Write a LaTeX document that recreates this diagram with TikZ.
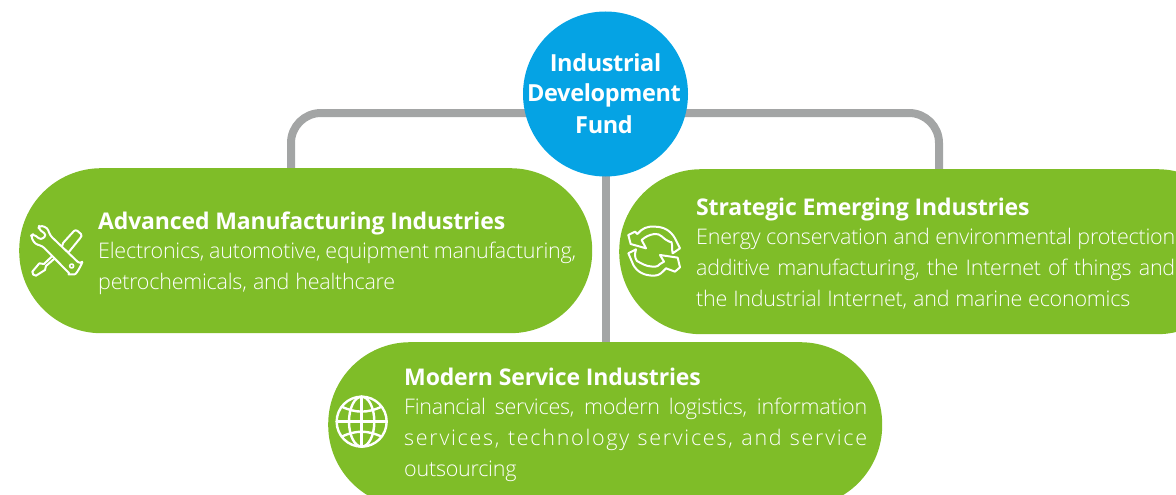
\documentclass[tikz,border=0pt]{standalone}
\usepackage{fontspec}
\setmainfont{Open Sans}
\newfontfamily\lightf{Open Sans Light}
\definecolor{leaf}{HTML}{7FBD28}
\definecolor{sky}{HTML}{05A3E4}
\definecolor{rail}{HTML}{A3A5A5}
\tikzset{
  pill/.style={fill=leaf,rounded corners=82pt,minimum height=165pt,inner sep=0pt,anchor=north west},
  hub/.style={circle,fill=sky,minimum size=165pt,inner sep=0pt},
  link/.style={draw=rail,line width=8pt,rounded corners=30pt},
  head/.style={anchor=base west,inner sep=0pt,white,font=\fontsize{23}{23}\selectfont\bfseries\addfontfeature{LetterSpace=-0.7}},
  body/.style={anchor=base west,inner sep=0pt,white,font=\lightf\fontsize{21.5}{23}\selectfont\addfontfeature{LetterSpace=-1.1}},
  hubtext/.style={anchor=base,inner sep=0pt,white,font=\fontsize{23.5}{24}\selectfont\bfseries\addfontfeature{LetterSpace=-1.5}},
  ico/.style={draw=white,line width=2pt,line join=round,line cap=round},
}
\begin{document}
\begin{tikzpicture}[x=1pt,y=-1pt]
\clip (0,0) rectangle (1176,495);
\path[use as bounding box] (0,0) rectangle (1176,495);
\coordinate (hubc) at (605.5,94);
\coordinate (railmid) at (605.5,113);
\coordinate (tl) at (291,170);
\coordinate (tr) at (939,172);
\coordinate (bm) at (605.5,345);
% connectors
\draw[link] (tl) |- (railmid) -| (tr);
\draw[draw=rail,line width=8pt] (hubc) -- (bm);
% shapes
\node[pill,minimum width=573pt] (adv) at (19,168) {};
\node[pill,minimum width=620pt] (str) at (619,169) {};
\node[pill,minimum width=554pt] (mod) at (328,342) {};
\node[hub] (hubn) at (hubc) {};
% hub text
\node[hubtext] (h1) at (605.5,72) {Industrial};
\node[hubtext] (h2) at (604,102) {Development};
\node[hubtext] (h3) at (604,133) {Fund};
% left
\node[head] (a0) at (98,229) {Advanced Manufacturing Industries};
\node[body] (a1) at (98,258) {\makebox[478pt][s]{Electronics, automotive, equipment manufacturing,}};
\node[body] (a2) at (98,289) {\makebox[297pt][s]{petrochemicals, and healthcare}};
% right
\node[head] (s0) at (696,215) {Strategic Emerging Industries};
\node[body] (s1) at (696,244) {\makebox[479pt][s]{Energy conservation and environmental protection}};
\node[body] (s2) at (696,275) {\makebox[479pt][s]{additive manufacturing, the Internet of things and}};
\node[body] (s3) at (696,306) {\makebox[434pt][s]{the Industrial Internet, and marine economics}};
% bottom
\node[head] (m0) at (404,385) {Modern Service Industries};
\node[body] (m1) at (404,414) {\makebox[463pt][s]{Financial services, modern logistics, information}};
\node[body] (m2) at (404,445) {\addfontfeature{LetterSpace=8}\makebox[463pt][s]{services, technology services, and service}};
\node[body] (m3) at (404,476) {outsourcing};
% tools icon
\begin{scope}[shift={(0,160)},x=0.3333pt,y=-0.3333pt]
  \draw[ico,fill=leaf] (190,248) -- (222,213) to[out=45,in=135] (243,222) to[out=-45,in=45] (240,235) -- (205,278) -- (185,262) -- cycle;
  \draw[ico,fill=leaf] (160,285) -- (132,312) -- (118,310) -- (97,335) to[out=-100,in=190] (108,347) -- (135,330) -- (138,318) -- (168,292) -- cycle;
  \draw[ico,fill=leaf,rounded corners=3pt] (118,196) -- (142,203) -- (150,226) -- (240,312) to[out=45,in=0] (215,343) to[out=180,in=-45] (200,332) -- (127,258) -- (105,252) -- (92,228) -- (100,222) -- (123,240) -- (140,225) -- (115,206) -- cycle;
  \draw[ico,line width=1.6pt] (215,318) circle (6);
\end{scope}
% arrows icon
\begin{scope}[shift={(610,160)},x=0.3333pt,y=-0.3333pt]
  \draw[ico] (82,222) to[out=50,in=175] (133,200) to[out=0,in=120] (195,235) -- (210,265) -- (188,280) to[out=110,in=20] (178,245);
  \draw[ico] (178,245) to[out=160,in=10] (133,222) to[out=190,in=40] (95,240);
  \draw[ico] (55,225) -- (75,215) -- (82,222);
  \draw[ico] (55,225) -- (62,252) -- (108,265) -- (95,240);
  \draw[ico] (168,325) to[out=-135,in=0] (133,347) to[out=180,in=-60] (70,315) -- (55,280) -- (78,268) to[out=-110,in=170] (90,308) to[out=-30,in=180] (135,320) to[out=0,in=-130] (150,312);
  \draw[ico] (168,325) -- (195,335) -- (210,322) -- (203,293) -- (150,285) -- (162,305) -- (150,312);
\end{scope}
% globe icon
\begin{scope}[shift={(320,340)},x=0.3333pt,y=-0.3333pt]
  \def\gc{(125,245)}
  \draw[ico,line width=2.4pt] \gc circle[radius=75];
  \draw[ico,line width=2.4pt] \gc ellipse[x radius=38,y radius=75];
  \draw[ico,line width=2.4pt] (125,170) -- (125,320);
  \draw[ico,line width=2.4pt] (50,245) -- (200,245);
  \draw[ico,line width=2.4pt] (65,200) to[out=-25,in=205] (185,200);
  \draw[ico,line width=2.4pt] (65,290) to[out=25,in=155] (185,290);
\end{scope}
\end{tikzpicture}
\end{document}
